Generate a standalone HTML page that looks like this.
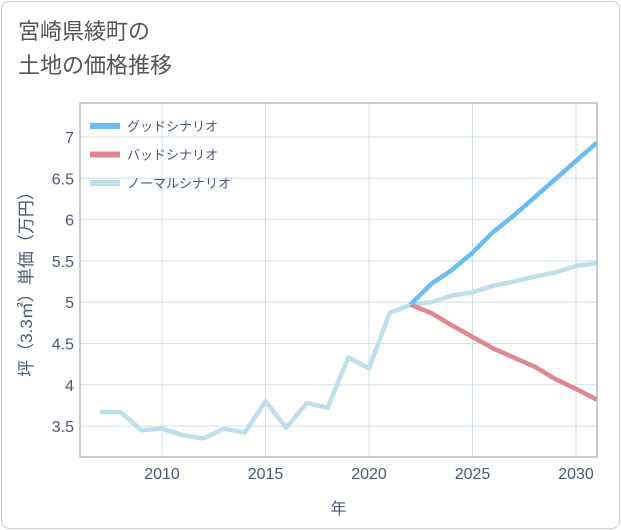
<!DOCTYPE html>
<html><head><meta charset="utf-8"><style>
body{margin:0;background:#fff;font-family:"Liberation Sans","Noto Sans CJK JP",sans-serif}
#card{position:absolute;left:1px;top:1px;width:617px;height:526px;border:1px solid #ccc;border-radius:8px;background:#fff}
#title{position:absolute;left:18px;top:15px;font-size:22px;line-height:34px;color:#555;}
</style></head><body>
<div id="card"></div>
<div id="title">宮崎県綾町の<br>土地の価格推移</div>
<svg id="chart" width="621" height="530" style="position:absolute;left:0;top:0"></svg>
<script>
const years=[2007,2008,2009,2010,2011,2012,2013,2014,2015,2016,2017,2018,2019,2020,2021,2022,2023,2024,2025,2026,2027,2028,2029,2030,2031];
const normalVals=[3.67,3.67,3.45,3.47,3.39,3.35,3.47,3.42,3.80,3.48,3.78,3.72,4.33,4.20,4.87,4.97,5.00,5.08,5.12,5.20,5.25,5.31,5.36,5.44,5.47];
const goodYears=[2022,2023,2024,2025,2026,2027,2028,2029,2030,2031];
const goodVals=[4.97,5.22,5.39,5.60,5.85,6.05,6.27,6.49,6.71,6.93];
const badVals=[4.97,4.87,4.72,4.58,4.44,4.33,4.22,4.07,3.95,3.82];
const xTicks=[2010,2015,2020,2025,2030];
const yTicks=[3.5,4,4.5,5,5.5,6,6.5,7];
const legendLabels=["グッドシナリオ","バッドシナリオ","ノーマルシナリオ"];
const legendColors=["#6bbcf0","#e0868e","#bddfeb"];

const L=80,R=597,T=103,B=457;
const X=v=>162+(v-2010)*20.7;
const Y=v=>137+(7-v)*82.6;
const svg=document.getElementById('chart');
const NS='http://www.w3.org/2000/svg';
function mk(tag,attrs){const e=document.createElementNS(NS,tag);for(const k in attrs)e.setAttribute(k,attrs[k]);svg.appendChild(e);return e;}

xTicks.forEach(t=>{
 const g=mk('line',{x1:X(t),x2:X(t),y1:T,y2:B,stroke:'#d3e0ea','stroke-width':1});
 
 
 const tx=mk('text',{x:X(t),y:B+22,'text-anchor':'middle','font-size':16,fill:'#4a5a70'});
 tx.textContent=t;
 
 
});
yTicks.forEach(t=>{
 const g=mk('line',{x1:L,x2:R,y1:Y(t),y2:Y(t),stroke:'#d3e0ea','stroke-width':1});
 
 
 const tx=mk('text',{x:L-6,y:Y(t)+6,'text-anchor':'end','font-size':16,fill:'#4a5a70'});
 tx.textContent=t;
 
 
});
const fr=mk('rect',{x:L,y:T,width:R-L,height:B-T,fill:'none',stroke:'#999','stroke-width':1});



function line(xs,vs,color,name){
 const p=mk('polyline',{points:xs.map((x,i)=>X(x)+','+Y(vs[i])).join(' '),fill:'none',stroke:color,'stroke-width':4.5,'stroke-linejoin':'round'});
 
 
}
line(years,normalVals,legendColors[2],'normal-scenario-line');
line(goodYears,badVals,legendColors[1],'bad-scenario-line');
line(goodYears,goodVals,legendColors[0],'good-scenario-line');

legendLabels.forEach((lab,i)=>{
 const y=126+i*28.5;
 const r=mk('rect',{x:90,y:y-3,width:30,height:6,fill:legendColors[i]});
 
 
 const t=mk('text',{x:127,y:y+5,'font-size':13,fill:'#4a5a70'});
 t.textContent=lab;
 
 
});
const xt=mk('text',{x:(L+R)/2,y:514,'text-anchor':'middle','font-size':16,fill:'#4a5a70'});
xt.textContent='年';


const yt=mk('text',{x:0,y:0,'text-anchor':'middle','font-size':17,fill:'#4a5a70',transform:'translate(32,280) rotate(-90)'});
yt.textContent='坪（3.3㎡）単価（万円）';


</script>
</body></html>
